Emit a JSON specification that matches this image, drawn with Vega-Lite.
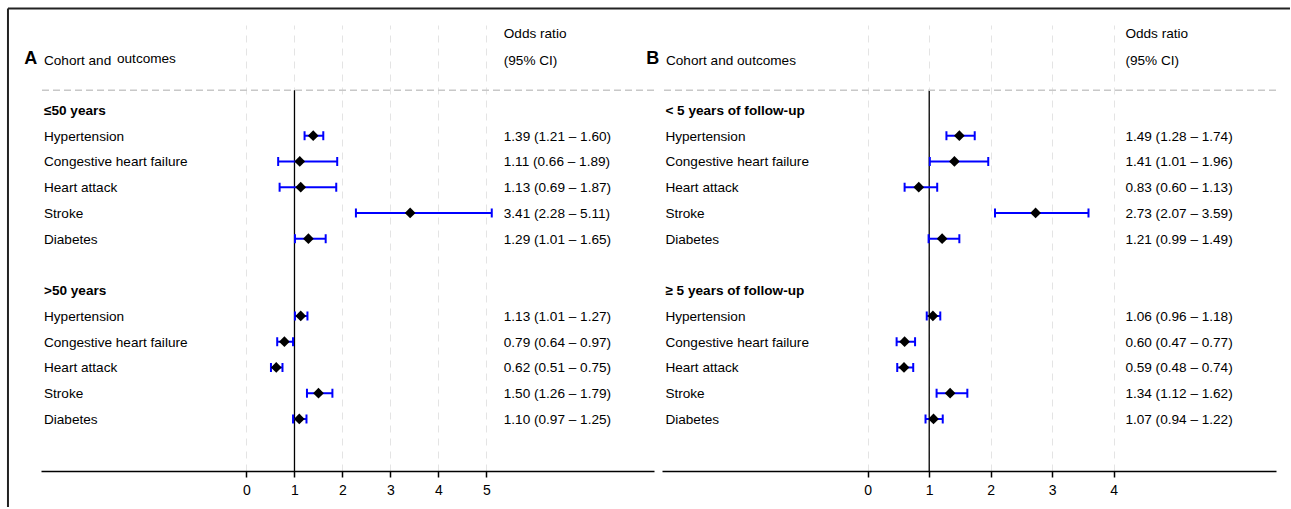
{
  "$schema": "https://vega.github.io/schema/vega-lite/v6.json",
  "padding": {"left": 6, "top": 7, "right": 0, "bottom": 0},
  "background": "white",
  "spacing": 8,
  "bounds": "flush",
  "config": {
    "view": {"stroke": null},
    "font": "Liberation Sans",
    "text": {"font": "Liberation Sans", "fontSize": 13.6, "color": "#000", "align": "left", "baseline": "middle", "dy": 1},
    "axisX": {"grid": true, "domainColor": "#000", "domainWidth": 1.5, "tickColor": "#000", "tickWidth": 1.5, "tickSize": 6, "labelFont": "Liberation Sans", "labelFontSize": 14, "labelColor": "#000", "labelPadding": 6, "gridColor": "#e4e4e4", "gridDash": [7, 6], "gridWidth": 1, "gridOpacity": 1}
  },
  "datasets": {
    "a": [
      {"row": 0, "label": "≤50 years", "kind": "group"},
      {"row": 1, "label": "Hypertension", "kind": "item", "or": 1.39, "lo": 1.21, "hi": 1.60, "ci": "1.39 (1.21 – 1.60)"},
      {"row": 2, "label": "Congestive heart failure", "kind": "item", "or": 1.11, "lo": 0.66, "hi": 1.89, "ci": "1.11 (0.66 – 1.89)"},
      {"row": 3, "label": "Heart attack", "kind": "item", "or": 1.13, "lo": 0.69, "hi": 1.87, "ci": "1.13 (0.69 – 1.87)"},
      {"row": 4, "label": "Stroke", "kind": "item", "or": 3.41, "lo": 2.28, "hi": 5.11, "ci": "3.41 (2.28 – 5.11)"},
      {"row": 5, "label": "Diabetes", "kind": "item", "or": 1.29, "lo": 1.01, "hi": 1.65, "ci": "1.29 (1.01 – 1.65)"},
      {"row": 7, "label": ">50 years", "kind": "group"},
      {"row": 8, "label": "Hypertension", "kind": "item", "or": 1.13, "lo": 1.01, "hi": 1.27, "ci": "1.13 (1.01 – 1.27)"},
      {"row": 9, "label": "Congestive heart failure", "kind": "item", "or": 0.79, "lo": 0.64, "hi": 0.97, "ci": "0.79 (0.64 – 0.97)"},
      {"row": 10, "label": "Heart attack", "kind": "item", "or": 0.62, "lo": 0.51, "hi": 0.75, "ci": "0.62 (0.51 – 0.75)"},
      {"row": 11, "label": "Stroke", "kind": "item", "or": 1.50, "lo": 1.26, "hi": 1.79, "ci": "1.50 (1.26 – 1.79)"},
      {"row": 12, "label": "Diabetes", "kind": "item", "or": 1.10, "lo": 0.97, "hi": 1.25, "ci": "1.10 (0.97 – 1.25)"}
    ],
    "b": [
      {"row": 0, "label": "< 5 years of follow-up", "kind": "group"},
      {"row": 1, "label": "Hypertension", "kind": "item", "or": 1.49, "lo": 1.28, "hi": 1.74, "ci": "1.49 (1.28 – 1.74)"},
      {"row": 2, "label": "Congestive heart failure", "kind": "item", "or": 1.41, "lo": 1.01, "hi": 1.96, "ci": "1.41 (1.01 – 1.96)"},
      {"row": 3, "label": "Heart attack", "kind": "item", "or": 0.83, "lo": 0.60, "hi": 1.13, "ci": "0.83 (0.60 – 1.13)"},
      {"row": 4, "label": "Stroke", "kind": "item", "or": 2.73, "lo": 2.07, "hi": 3.59, "ci": "2.73 (2.07 – 3.59)"},
      {"row": 5, "label": "Diabetes", "kind": "item", "or": 1.21, "lo": 0.99, "hi": 1.49, "ci": "1.21 (0.99 – 1.49)"},
      {"row": 7, "label": "≥ 5 years of follow-up", "kind": "group"},
      {"row": 8, "label": "Hypertension", "kind": "item", "or": 1.06, "lo": 0.96, "hi": 1.18, "ci": "1.06 (0.96 – 1.18)"},
      {"row": 9, "label": "Congestive heart failure", "kind": "item", "or": 0.60, "lo": 0.47, "hi": 0.77, "ci": "0.60 (0.47 – 0.77)"},
      {"row": 10, "label": "Heart attack", "kind": "item", "or": 0.59, "lo": 0.48, "hi": 0.74, "ci": "0.59 (0.48 – 0.74)"},
      {"row": 11, "label": "Stroke", "kind": "item", "or": 1.34, "lo": 1.12, "hi": 1.62, "ci": "1.34 (1.12 – 1.62)"},
      {"row": 12, "label": "Diabetes", "kind": "item", "or": 1.07, "lo": 0.94, "hi": 1.22, "ci": "1.07 (0.94 – 1.22)"}
    ]
  },
  "hconcat": [
    {
      "width": 613,
      "height": 446,
      "data": {"name": "a"},
      "layer": [
        {
          "data": {"values": [{}]},
          "mark": {"type": "rule", "color": "#000", "strokeWidth": 1.3},
          "encoding": {
            "x": {"datum": 1, "type": "quantitative", "scale": {"domain": [-4.281, 8.49], "nice": false, "zero": false}, "axis": {"values": [0, 1, 2, 3, 4, 5], "title": null, "grid": true}},
            "y": {"datum": -0.77, "type": "quantitative", "scale": {"domain": [-3.3, 14.02], "reverse": true, "nice": false, "zero": false}, "axis": null},
            "y2": {"datum": 14.02}
          }
        },
        {
          "data": {"values": [{}]},
          "mark": {"type": "rule", "color": "#c8c8c8", "strokeWidth": 1.5, "strokeDash": [7, 4]},
          "encoding": {
            "y": {"datum": -0.77, "type": "quantitative", "scale": {"domain": [-3.3, 14.02], "reverse": true, "nice": false, "zero": false}, "axis": null}
          }
        },
        {
          "transform": [{"filter": "datum.kind == 'item'"}],
          "mark": {"type": "rule", "color": "#0000ff", "strokeWidth": 2},
          "encoding": {
            "x": {"field": "lo", "type": "quantitative", "scale": {"domain": [-4.281, 8.49], "nice": false, "zero": false}, "axis": {"values": [0, 1, 2, 3, 4, 5], "title": null, "grid": true}},
            "x2": {"field": "hi"},
            "y": {"field": "row", "type": "quantitative", "scale": {"domain": [-3.3, 14.02], "reverse": true, "nice": false, "zero": false}, "axis": null}
          }
        },
        {
          "transform": [{"filter": "datum.kind == 'item'"}],
          "mark": {"type": "tick", "orient": "vertical", "color": "#0000ff", "size": 9, "thickness": 2, "opacity": 1},
          "encoding": {
            "x": {"field": "lo", "type": "quantitative", "scale": {"domain": [-4.281, 8.49], "nice": false, "zero": false}, "axis": {"values": [0, 1, 2, 3, 4, 5], "title": null, "grid": true}},
            "y": {"field": "row", "type": "quantitative", "scale": {"domain": [-3.3, 14.02], "reverse": true, "nice": false, "zero": false}, "axis": null}
          }
        },
        {
          "transform": [{"filter": "datum.kind == 'item'"}],
          "mark": {"type": "tick", "orient": "vertical", "color": "#0000ff", "size": 9, "thickness": 2, "opacity": 1},
          "encoding": {
            "x": {"field": "hi", "type": "quantitative", "scale": {"domain": [-4.281, 8.49], "nice": false, "zero": false}, "axis": {"values": [0, 1, 2, 3, 4, 5], "title": null, "grid": true}},
            "y": {"field": "row", "type": "quantitative", "scale": {"domain": [-3.3, 14.02], "reverse": true, "nice": false, "zero": false}, "axis": null}
          }
        },
        {
          "transform": [{"filter": "datum.kind == 'item'"}],
          "mark": {"type": "point", "shape": "diamond", "filled": true, "color": "#000", "size": 115, "opacity": 1},
          "encoding": {
            "x": {"field": "or", "type": "quantitative", "scale": {"domain": [-4.281, 8.49], "nice": false, "zero": false}, "axis": {"values": [0, 1, 2, 3, 4, 5], "title": null, "grid": true}},
            "y": {"field": "row", "type": "quantitative", "scale": {"domain": [-3.3, 14.02], "reverse": true, "nice": false, "zero": false}, "axis": null}
          }
        },
        {
          "transform": [{"filter": "datum.kind == 'item'"}],
          "mark": {"type": "text"},
          "encoding": {
            "x": {"datum": -4.219, "type": "quantitative", "scale": {"domain": [-4.281, 8.49], "nice": false, "zero": false}, "axis": {"values": [0, 1, 2, 3, 4, 5], "title": null, "grid": true}},
            "y": {"field": "row", "type": "quantitative", "scale": {"domain": [-3.3, 14.02], "reverse": true, "nice": false, "zero": false}, "axis": null},
            "text": {"field": "label"}
          }
        },
        {
          "transform": [{"filter": "datum.kind == 'group'"}],
          "mark": {"type": "text", "fontWeight": "bold"},
          "encoding": {
            "x": {"datum": -4.219, "type": "quantitative", "scale": {"domain": [-4.281, 8.49], "nice": false, "zero": false}, "axis": {"values": [0, 1, 2, 3, 4, 5], "title": null, "grid": true}},
            "y": {"field": "row", "type": "quantitative", "scale": {"domain": [-3.3, 14.02], "reverse": true, "nice": false, "zero": false}, "axis": null},
            "text": {"field": "label"}
          }
        },
        {
          "transform": [{"filter": "datum.kind == 'item'"}],
          "mark": {"type": "text"},
          "encoding": {
            "x": {"datum": 5.36, "type": "quantitative", "scale": {"domain": [-4.281, 8.49], "nice": false, "zero": false}, "axis": {"values": [0, 1, 2, 3, 4, 5], "title": null, "grid": true}},
            "y": {"field": "row", "type": "quantitative", "scale": {"domain": [-3.3, 14.02], "reverse": true, "nice": false, "zero": false}, "axis": null},
            "text": {"field": "ci"}
          }
        },
        {
          "data": {"values": [{"t": "Odds ratio"}]},
          "mark": {"type": "text"},
          "encoding": {
            "x": {"datum": 5.36, "type": "quantitative", "scale": {"domain": [-4.281, 8.49], "nice": false, "zero": false}, "axis": {"values": [0, 1, 2, 3, 4, 5], "title": null, "grid": true}},
            "y": {"datum": -2.97, "type": "quantitative", "scale": {"domain": [-3.3, 14.02], "reverse": true, "nice": false, "zero": false}, "axis": null},
            "text": {"field": "t"}
          }
        },
        {
          "data": {"values": [{"t": "(95% CI)"}]},
          "mark": {"type": "text"},
          "encoding": {
            "x": {"datum": 5.36, "type": "quantitative", "scale": {"domain": [-4.281, 8.49], "nice": false, "zero": false}, "axis": {"values": [0, 1, 2, 3, 4, 5], "title": null, "grid": true}},
            "y": {"datum": -1.95, "type": "quantitative", "scale": {"domain": [-3.3, 14.02], "reverse": true, "nice": false, "zero": false}, "axis": null},
            "text": {"field": "t"}
          }
        },
        {
          "data": {"values": [{"t": "A"}]},
          "mark": {"type": "text", "fontWeight": "bold", "fontSize": 18},
          "encoding": {
            "x": {"datum": -4.63, "type": "quantitative", "scale": {"domain": [-4.281, 8.49], "nice": false, "zero": false}, "axis": {"values": [0, 1, 2, 3, 4, 5], "title": null, "grid": true}},
            "y": {"datum": -2.0, "type": "quantitative", "scale": {"domain": [-3.3, 14.02], "reverse": true, "nice": false, "zero": false}, "axis": null},
            "text": {"field": "t"}
          }
        },
        {
          "data": {"values": [{"t": "Cohort and"}]},
          "mark": {"type": "text"},
          "encoding": {
            "x": {"datum": -4.219, "type": "quantitative", "scale": {"domain": [-4.281, 8.49], "nice": false, "zero": false}, "axis": {"values": [0, 1, 2, 3, 4, 5], "title": null, "grid": true}},
            "y": {"datum": -1.96, "type": "quantitative", "scale": {"domain": [-3.3, 14.02], "reverse": true, "nice": false, "zero": false}, "axis": null},
            "text": {"field": "t"}
          }
        },
        {
          "data": {"values": [{"t": "outcomes"}]},
          "mark": {"type": "text"},
          "encoding": {
            "x": {"datum": -2.698, "type": "quantitative", "scale": {"domain": [-4.281, 8.49], "nice": false, "zero": false}, "axis": {"values": [0, 1, 2, 3, 4, 5], "title": null, "grid": true}},
            "y": {"datum": -2.03, "type": "quantitative", "scale": {"domain": [-3.3, 14.02], "reverse": true, "nice": false, "zero": false}, "axis": null},
            "text": {"field": "t"}
          }
        },
        {
          "data": {"values": [{}]},
          "mark": {"type": "rule", "color": "#222", "strokeWidth": 2},
          "encoding": {
            "x": {"datum": -4.969, "type": "quantitative", "scale": {"domain": [-4.281, 8.49], "nice": false, "zero": false}, "axis": {"values": [0, 1, 2, 3, 4, 5], "title": null, "grid": true}},
            "y": {"datum": -3.938, "type": "quantitative", "scale": {"domain": [-3.3, 14.02], "reverse": true, "nice": false, "zero": false}, "axis": null},
            "y2": {"datum": 15.42}
          }
        },
        {
          "data": {"values": [{}]},
          "mark": {"type": "rule", "color": "#222", "strokeWidth": 2},
          "encoding": {
            "x": {"datum": -4.969, "type": "quantitative", "scale": {"domain": [-4.281, 8.49], "nice": false, "zero": false}, "axis": {"values": [0, 1, 2, 3, 4, 5], "title": null, "grid": true}},
            "x2": {"datum": 21.74},
            "y": {"datum": -3.938, "type": "quantitative", "scale": {"domain": [-3.3, 14.02], "reverse": true, "nice": false, "zero": false}, "axis": null}
          }
        }
      ]
    },
    {
      "width": 614,
      "height": 446,
      "data": {"name": "b"},
      "layer": [
        {
          "data": {"values": [{}]},
          "mark": {"type": "rule", "color": "#000", "strokeWidth": 1.3},
          "encoding": {
            "x": {"datum": 1, "type": "quantitative", "scale": {"domain": [-3.345, 6.639], "nice": false, "zero": false}, "axis": {"values": [0, 1, 2, 3, 4], "title": null, "grid": true}},
            "y": {"datum": -0.77, "type": "quantitative", "scale": {"domain": [-3.3, 14.02], "reverse": true, "nice": false, "zero": false}, "axis": null},
            "y2": {"datum": 14.02}
          }
        },
        {
          "data": {"values": [{}]},
          "mark": {"type": "rule", "color": "#c8c8c8", "strokeWidth": 1.5, "strokeDash": [7, 4]},
          "encoding": {
            "y": {"datum": -0.77, "type": "quantitative", "scale": {"domain": [-3.3, 14.02], "reverse": true, "nice": false, "zero": false}, "axis": null}
          }
        },
        {
          "transform": [{"filter": "datum.kind == 'item'"}],
          "mark": {"type": "rule", "color": "#0000ff", "strokeWidth": 2},
          "encoding": {
            "x": {"field": "lo", "type": "quantitative", "scale": {"domain": [-3.345, 6.639], "nice": false, "zero": false}, "axis": {"values": [0, 1, 2, 3, 4], "title": null, "grid": true}},
            "x2": {"field": "hi"},
            "y": {"field": "row", "type": "quantitative", "scale": {"domain": [-3.3, 14.02], "reverse": true, "nice": false, "zero": false}, "axis": null}
          }
        },
        {
          "transform": [{"filter": "datum.kind == 'item'"}],
          "mark": {"type": "tick", "orient": "vertical", "color": "#0000ff", "size": 9, "thickness": 2, "opacity": 1},
          "encoding": {
            "x": {"field": "lo", "type": "quantitative", "scale": {"domain": [-3.345, 6.639], "nice": false, "zero": false}, "axis": {"values": [0, 1, 2, 3, 4], "title": null, "grid": true}},
            "y": {"field": "row", "type": "quantitative", "scale": {"domain": [-3.3, 14.02], "reverse": true, "nice": false, "zero": false}, "axis": null}
          }
        },
        {
          "transform": [{"filter": "datum.kind == 'item'"}],
          "mark": {"type": "tick", "orient": "vertical", "color": "#0000ff", "size": 9, "thickness": 2, "opacity": 1},
          "encoding": {
            "x": {"field": "hi", "type": "quantitative", "scale": {"domain": [-3.345, 6.639], "nice": false, "zero": false}, "axis": {"values": [0, 1, 2, 3, 4], "title": null, "grid": true}},
            "y": {"field": "row", "type": "quantitative", "scale": {"domain": [-3.3, 14.02], "reverse": true, "nice": false, "zero": false}, "axis": null}
          }
        },
        {
          "transform": [{"filter": "datum.kind == 'item'"}],
          "mark": {"type": "point", "shape": "diamond", "filled": true, "color": "#000", "size": 115, "opacity": 1},
          "encoding": {
            "x": {"field": "or", "type": "quantitative", "scale": {"domain": [-3.345, 6.639], "nice": false, "zero": false}, "axis": {"values": [0, 1, 2, 3, 4], "title": null, "grid": true}},
            "y": {"field": "row", "type": "quantitative", "scale": {"domain": [-3.3, 14.02], "reverse": true, "nice": false, "zero": false}, "axis": null}
          }
        },
        {
          "transform": [{"filter": "datum.kind == 'item'"}],
          "mark": {"type": "text"},
          "encoding": {
            "x": {"datum": -3.29, "type": "quantitative", "scale": {"domain": [-3.345, 6.639], "nice": false, "zero": false}, "axis": {"values": [0, 1, 2, 3, 4], "title": null, "grid": true}},
            "y": {"field": "row", "type": "quantitative", "scale": {"domain": [-3.3, 14.02], "reverse": true, "nice": false, "zero": false}, "axis": null},
            "text": {"field": "label"}
          }
        },
        {
          "transform": [{"filter": "datum.kind == 'group'"}],
          "mark": {"type": "text", "fontWeight": "bold"},
          "encoding": {
            "x": {"datum": -3.29, "type": "quantitative", "scale": {"domain": [-3.345, 6.639], "nice": false, "zero": false}, "axis": {"values": [0, 1, 2, 3, 4], "title": null, "grid": true}},
            "y": {"field": "row", "type": "quantitative", "scale": {"domain": [-3.3, 14.02], "reverse": true, "nice": false, "zero": false}, "axis": null},
            "text": {"field": "label"}
          }
        },
        {
          "transform": [{"filter": "datum.kind == 'item'"}],
          "mark": {"type": "text"},
          "encoding": {
            "x": {"datum": 4.19, "type": "quantitative", "scale": {"domain": [-3.345, 6.639], "nice": false, "zero": false}, "axis": {"values": [0, 1, 2, 3, 4], "title": null, "grid": true}},
            "y": {"field": "row", "type": "quantitative", "scale": {"domain": [-3.3, 14.02], "reverse": true, "nice": false, "zero": false}, "axis": null},
            "text": {"field": "ci"}
          }
        },
        {
          "data": {"values": [{"t": "Odds ratio"}]},
          "mark": {"type": "text"},
          "encoding": {
            "x": {"datum": 4.19, "type": "quantitative", "scale": {"domain": [-3.345, 6.639], "nice": false, "zero": false}, "axis": {"values": [0, 1, 2, 3, 4], "title": null, "grid": true}},
            "y": {"datum": -2.97, "type": "quantitative", "scale": {"domain": [-3.3, 14.02], "reverse": true, "nice": false, "zero": false}, "axis": null},
            "text": {"field": "t"}
          }
        },
        {
          "data": {"values": [{"t": "(95% CI)"}]},
          "mark": {"type": "text"},
          "encoding": {
            "x": {"datum": 4.19, "type": "quantitative", "scale": {"domain": [-3.345, 6.639], "nice": false, "zero": false}, "axis": {"values": [0, 1, 2, 3, 4], "title": null, "grid": true}},
            "y": {"datum": -1.95, "type": "quantitative", "scale": {"domain": [-3.3, 14.02], "reverse": true, "nice": false, "zero": false}, "axis": null},
            "text": {"field": "t"}
          }
        },
        {
          "data": {"values": [{"t": "B"}]},
          "mark": {"type": "text", "fontWeight": "bold", "fontSize": 18},
          "encoding": {
            "x": {"datum": -3.6, "type": "quantitative", "scale": {"domain": [-3.345, 6.639], "nice": false, "zero": false}, "axis": {"values": [0, 1, 2, 3, 4], "title": null, "grid": true}},
            "y": {"datum": -2.0, "type": "quantitative", "scale": {"domain": [-3.3, 14.02], "reverse": true, "nice": false, "zero": false}, "axis": null},
            "text": {"field": "t"}
          }
        },
        {
          "data": {"values": [{"t": "Cohort and outcomes"}]},
          "mark": {"type": "text"},
          "encoding": {
            "x": {"datum": -3.28, "type": "quantitative", "scale": {"domain": [-3.345, 6.639], "nice": false, "zero": false}, "axis": {"values": [0, 1, 2, 3, 4], "title": null, "grid": true}},
            "y": {"datum": -1.96, "type": "quantitative", "scale": {"domain": [-3.3, 14.02], "reverse": true, "nice": false, "zero": false}, "axis": null},
            "text": {"field": "t"}
          }
        }
      ]
    }
  ]
}
